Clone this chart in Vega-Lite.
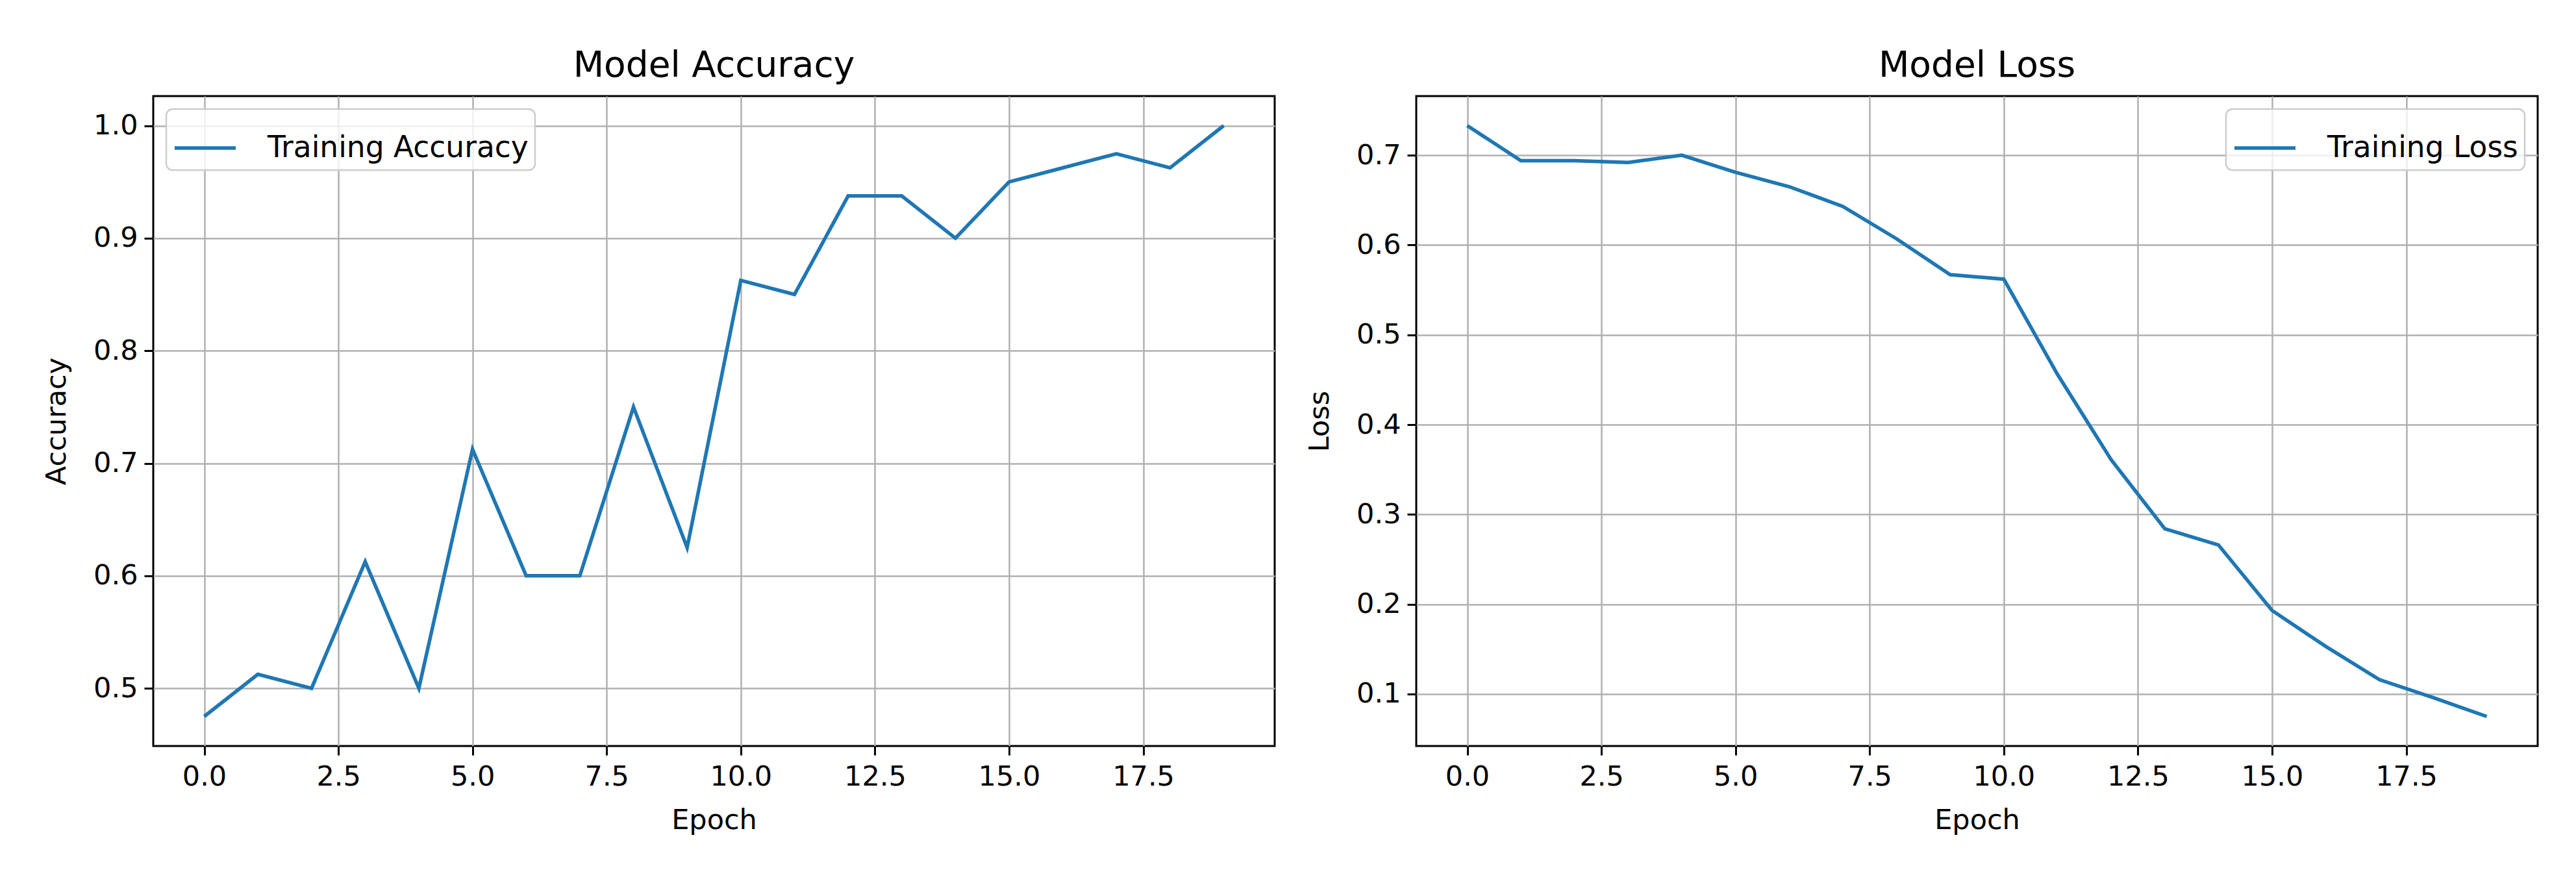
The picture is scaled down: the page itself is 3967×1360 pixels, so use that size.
{
  "$schema": "https://vega.github.io/schema/vega-lite/v6.json",
  "autosize": {"type": "pad"},
  "padding": {"left": 65, "top": 72, "right": 0, "bottom": 0},
  "background": "white",
  "datasets": {
    "hist": [
      {"epoch": 0, "metric": "Training Accuracy", "value": 0.475},
      {"epoch": 1, "metric": "Training Accuracy", "value": 0.5125},
      {"epoch": 2, "metric": "Training Accuracy", "value": 0.5},
      {"epoch": 3, "metric": "Training Accuracy", "value": 0.6125},
      {"epoch": 4, "metric": "Training Accuracy", "value": 0.5},
      {"epoch": 5, "metric": "Training Accuracy", "value": 0.7125},
      {"epoch": 6, "metric": "Training Accuracy", "value": 0.6},
      {"epoch": 7, "metric": "Training Accuracy", "value": 0.6},
      {"epoch": 8, "metric": "Training Accuracy", "value": 0.75},
      {"epoch": 9, "metric": "Training Accuracy", "value": 0.625},
      {"epoch": 10, "metric": "Training Accuracy", "value": 0.8625},
      {"epoch": 11, "metric": "Training Accuracy", "value": 0.85},
      {"epoch": 12, "metric": "Training Accuracy", "value": 0.9375},
      {"epoch": 13, "metric": "Training Accuracy", "value": 0.9375},
      {"epoch": 14, "metric": "Training Accuracy", "value": 0.9},
      {"epoch": 15, "metric": "Training Accuracy", "value": 0.95},
      {"epoch": 16, "metric": "Training Accuracy", "value": 0.9625},
      {"epoch": 17, "metric": "Training Accuracy", "value": 0.975},
      {"epoch": 18, "metric": "Training Accuracy", "value": 0.9625},
      {"epoch": 19, "metric": "Training Accuracy", "value": 1.0},
      {"epoch": 0, "metric": "Training Loss", "value": 0.733},
      {"epoch": 1, "metric": "Training Loss", "value": 0.694},
      {"epoch": 2, "metric": "Training Loss", "value": 0.694},
      {"epoch": 3, "metric": "Training Loss", "value": 0.692},
      {"epoch": 4, "metric": "Training Loss", "value": 0.700},
      {"epoch": 5, "metric": "Training Loss", "value": 0.681},
      {"epoch": 6, "metric": "Training Loss", "value": 0.665},
      {"epoch": 7, "metric": "Training Loss", "value": 0.643},
      {"epoch": 8, "metric": "Training Loss", "value": 0.607},
      {"epoch": 9, "metric": "Training Loss", "value": 0.567},
      {"epoch": 10, "metric": "Training Loss", "value": 0.562},
      {"epoch": 11, "metric": "Training Loss", "value": 0.456},
      {"epoch": 12, "metric": "Training Loss", "value": 0.361},
      {"epoch": 13, "metric": "Training Loss", "value": 0.284},
      {"epoch": 14, "metric": "Training Loss", "value": 0.266},
      {"epoch": 15, "metric": "Training Loss", "value": 0.193},
      {"epoch": 16, "metric": "Training Loss", "value": 0.153},
      {"epoch": 17, "metric": "Training Loss", "value": 0.116},
      {"epoch": 18, "metric": "Training Loss", "value": 0.096},
      {"epoch": 19, "metric": "Training Loss", "value": 0.075}
    ]
  },
  "hconcat": [
    {
      "data": {"name": "hist"},
      "title": "Model Accuracy",
      "width": 1727,
      "height": 1001,
      "transform": [{"filter": "datum.metric === 'Training Accuracy'"}],
      "mark": {"type": "line", "strokeWidth": 5.5},
      "encoding": {
        "x": {"field": "epoch", "type": "quantitative", "title": "Epoch",
              "scale": {"domain": [-0.95, 19.95], "nice": false, "zero": false},
              "axis": {"values": [0, 2.5, 5, 7.5, 10, 12.5, 15, 17.5], "format": ".1f"}},
        "y": {"field": "value", "type": "quantitative", "title": "Accuracy",
              "scale": {"domain": [0.44875, 1.02625], "nice": false, "zero": false},
              "axis": {"values": [0.5, 0.6, 0.7, 0.8, 0.9, 1.0], "format": ".1f"}},
        "color": {"field": "metric", "type": "nominal",
                  "scale": {"domain": ["Training Accuracy"], "range": ["#1f77b4"]},
                  "legend": {"orient": "top-left"}}
      }
    },
    {
      "data": {"name": "hist"},
      "title": "Model Loss",
      "width": 1727,
      "height": 1001,
      "transform": [{"filter": "datum.metric === 'Training Loss'"}],
      "mark": {"type": "line", "strokeWidth": 5.5},
      "encoding": {
        "x": {"field": "epoch", "type": "quantitative", "title": "Epoch",
              "scale": {"domain": [-0.95, 19.95], "nice": false, "zero": false},
              "axis": {"values": [0, 2.5, 5, 7.5, 10, 12.5, 15, 17.5], "format": ".1f"}},
        "y": {"field": "value", "type": "quantitative", "title": "Loss",
              "scale": {"domain": [0.0421, 0.7659], "nice": false, "zero": false},
              "axis": {"values": [0.1, 0.2, 0.3, 0.4, 0.5, 0.6, 0.7], "format": ".1f"}},
        "color": {"field": "metric", "type": "nominal",
                  "scale": {"domain": ["Training Loss"], "range": ["#1f77b4"]},
                  "legend": {"orient": "top-right"}}
      }
    }
  ],
  "spacing": 218,
  "bounds": "flush",
  "resolve": {"scale": {"color": "independent", "y": "independent", "x": "independent"}, "legend": {"color": "independent"}},
  "config": {
    "font": "DejaVu Sans",
    "view": {"stroke": "black", "strokeWidth": 3},
    "title": {"font": "DejaVu Sans", "fontSize": 55, "fontWeight": "normal", "color": "black", "offset": 18, "anchor": "middle"},
    "axis": {
      "labelFont": "DejaVu Sans", "labelFontSize": 43, "labelColor": "black",
      "titleFont": "DejaVu Sans", "titleFontSize": 43, "titleFontWeight": "normal", "titleColor": "black",
      "tickColor": "black", "tickSize": 14, "tickWidth": 3, "domain": false,
      "gridColor": "#b0b0b0", "gridWidth": 2.5, "gridOpacity": 1,
      "labelPadding": 10, "titlePadding": 14, "labelFlush": false, "labelOverlap": false
    },
    "axisX": {"labelPadding": 12, "titlePadding": 24},
    "axisY": {"titlePadding": 34},
    "legend": {
      "title": null, "offset": 20, "symbolType": "stroke", "symbolStrokeWidth": 5.5,
      "symbolSize": 8836, "labelFont": "DejaVu Sans", "labelFontSize": 45.5, "labelColor": "black",
      "labelOffset": 46, "padding": 10, "strokeColor": "#cccccc", "strokeWidth": 2.5,
      "fillColor": "rgba(255,255,255,0.8)", "cornerRadius": 10, "labelLimit": 0
    }
  }
}
